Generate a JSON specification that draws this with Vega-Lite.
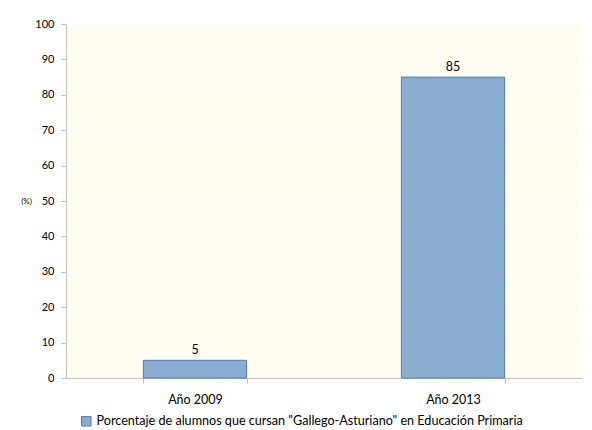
{
  "$schema": "https://vega.github.io/schema/vega-lite/v6.json",
  "width": 516,
  "height": 354,
  "autosize": {"type": "none"},
  "padding": {"left": 66, "top": 24, "right": 10, "bottom": 52},
  "background": "#ffffff",
  "config": {
    "font": "Lato",
    "view": {"fill": "#FFFDF2", "stroke": null}
  },
  "data": {
    "values": [
      {"anio": "Año 2009", "valor": 5, "serie": "Porcentaje de alumnos que cursan \"Gallego-Asturiano\" en Educación Primaria"},
      {"anio": "Año 2013", "valor": 85, "serie": "Porcentaje de alumnos que cursan \"Gallego-Asturiano\" en Educación Primaria"}
    ]
  },
  "encoding": {
    "x": {
      "field": "anio", "type": "nominal", "sort": null,
      "scale": {"paddingInner": 0.6, "paddingOuter": 0.3},
      "axis": {
        "title": null, "labelAngle": 0, "labelFontSize": 12.5, "labelColor": "#000000",
        "labelPadding": 10, "domainColor": "#BFBFBF", "tickColor": "#BFBFBF",
        "tickBand": "extent", "tickSize": 5, "grid": false
      }
    },
    "y": {
      "field": "valor", "type": "quantitative",
      "scale": {"domain": [0, 100]},
      "axis": {
        "values": [0, 10, 20, 30, 40, 50, 60, 70, 80, 90, 100],
        "title": "(%)", "titleAngle": 0, "titleFontSize": 8, "titleFontWeight": "normal",
        "titleColor": "#000000", "titleX": -40, "titleY": 181, "titleAlign": "center",
        "labelFontSize": 11, "labelColor": "#000000", "labelPadding": 7,
        "domainColor": "#BFBFBF", "tickColor": "#BFBFBF", "tickSize": 5,
        "grid": true, "gridColor": "#FFFFFF", "gridWidth": 1
      }
    }
  },
  "layer": [
    {
      "mark": {"type": "bar", "stroke": "#4F7CB3", "strokeWidth": 1},
      "encoding": {
        "color": {
          "field": "serie", "type": "nominal",
          "scale": {"range": ["#8AACD1"]},
          "legend": {
            "title": null, "orient": "none", "legendX": 14, "legendY": 391,
            "symbolType": "square", "symbolSize": 90, "symbolStrokeColor": "#4F7CB3",
            "symbolStrokeWidth": 1, "labelFontSize": 12.6, "labelColor": "#000000",
            "labelLimit": 600, "labelOffset": 4
          }
        }
      }
    },
    {
      "mark": {"type": "text", "dy": -10, "fontSize": 12.5, "color": "#000000"},
      "encoding": {"text": {"field": "valor", "type": "quantitative"}}
    }
  ]
}
